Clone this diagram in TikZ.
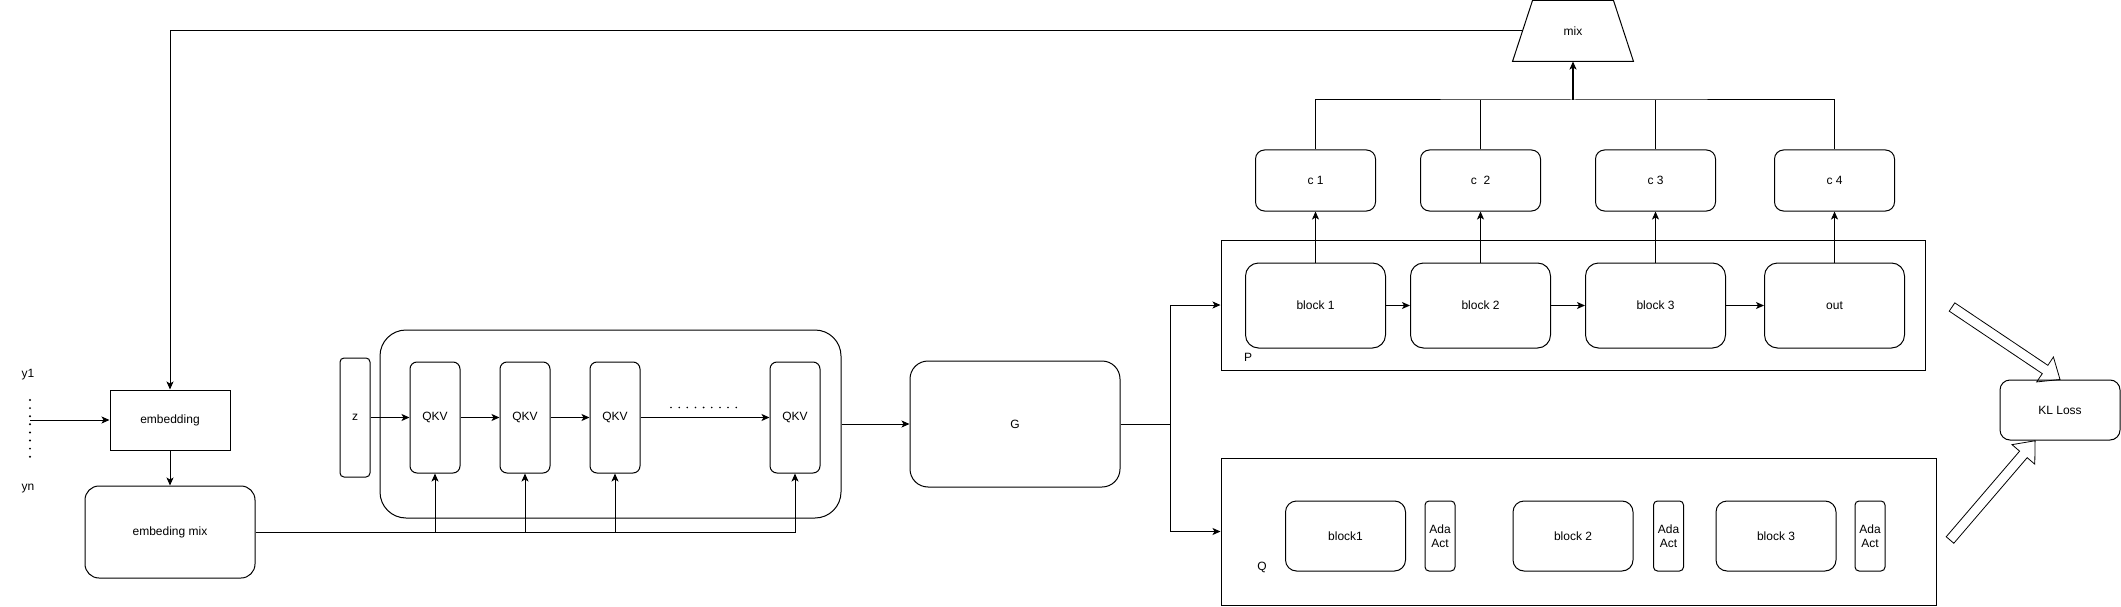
\documentclass[tikz,border=0pt]{standalone}
\usepackage{fontspec}
\setmainfont{Liberation Sans}
\usetikzlibrary{arrows.meta,calc}
\newcommand{\fatarrow}[2]{\draw[line width=0.8pt, line join=miter] let \p1=($(#2)-(#1)$), \n1={atan2(\y1,\x1)}, \n2={veclen(\x1,\y1)} in [shift={(#1)}, rotate=\n1] (0,5) -- (\n2-18,5) -- (\n2-18,15) -- (\n2,0) -- (\n2-18,-15) -- (\n2-18,-5) -- (0,-5) -- cycle;}

\begin{document}
\begin{tikzpicture}[x=1pt,y=-1pt,line width=1pt,
  every node/.style={font=\fontsize{12}{14}\selectfont},
  rbox/.style n args={3}{draw, rounded corners=#3pt, minimum width=#1pt, minimum height=#2pt, inner sep=0pt, align=center},
  sbox/.style 2 args={draw, minimum width=#1pt, minimum height=#2pt, inner sep=0pt},
  arr/.style={-{Stealth[length=8pt,width=7pt,inset=2pt]}}]
\useasboundingbox (0,0) rectangle (2121,607);

\node (y1) at (28,375) {y1};
\node (yn) at (28,489) {yn};
\foreach \k in {0,...,7}
  \fill (30,400+8.1*\k) circle (1.1);
\coordinate (ys) at (30,420);
\node[sbox={120}{60}] (emb) at (170,420) {embedding};
\node[rbox={170}{92}{14}] (embmix) at (170,532) {embeding mix};
\draw[arr] (ys) -- (emb);
\draw[arr] (emb) -- (embmix);

\node[rbox={461}{188}{26}] (stack) at (610.5,424) {};
\node[rbox={30}{119}{4}] (z) at (355,417.5) {z};
\foreach \i/\x in {1/435,2/525,3/615,4/795}
  \node[rbox={50}{111}{7}] (q\i) at (\x,417.5) {QKV};
\draw[arr] (z) -- (q1);
\draw[arr] (q1) -- (q2);
\draw[arr] (q2) -- (q3);
\draw[arr] (q3) -- (q4);
\foreach \k in {0,...,8}
  \fill (671+8.15*\k,407.5) circle (0.9);
\draw[arr] (embmix.east) -| (q4.south);
\foreach \i in {1,2,3}
  \draw[arr] (embmix.east -| q\i.south) -- (q\i.south);

\node[rbox={210}{126}{18}] (G) at (1015,424) {G};
\draw[arr] (stack) -- (G);

\node[sbox={704}{130}] (P) at (1573,305) {};
\node (plab) at (1248,357) {P};
\foreach \i/\x/\t in {1/1315.5/block 1,2/1480.5/block 2,3/1655.5/block 3,4/1834.5/out}
  \node[rbox={140}{85}{13}] (b\i) at (\x,305.5) {\t};
\draw[arr] (b1) -- (b2);
\draw[arr] (b2) -- (b3);
\draw[arr] (b3) -- (b4);
\foreach \i/\x/\t in {1/1315.5/c 1,2/1480.5/c\ \ 2,3/1655.5/c 3,4/1834.5/c 4}
{
  \node[rbox={120}{61}{9}] (c\i) at (\x,180.5) {\t};
  \draw[arr] (b\i) -- (c\i);
}

\node[minimum width=120pt, minimum height=60pt, inner sep=0pt] (mix) at (1573,31) {mix};
\draw (mix.south west) -- ([xshift=20pt]mix.north west) -- ([xshift=-20pt]mix.north east) -- (mix.south east) -- cycle;
\coordinate (mixl) at ([xshift=10pt]mix.west);
\coordinate (bus) at (1573,100);
\draw (c1.north) |- (bus) -| (c4.north);
\draw (c2.north) -- (c2.north |- bus);
\draw (c3.north) -- (c3.north |- bus);
\draw[arr, line width=1.8pt] (bus) -- (mix.south);
\draw[arr] (mixl) -| (emb.north);

\node[sbox={715}{147}] (Q) at (1578.5,531.5) {};
\node (qlab) at (1262,567) {Q};
\foreach \i/\x/\t in {1/1345.5/block1,2/1573/block 2,3/1776/block 3}
  \node[rbox={120}{70}{11}] (qb\i) at (\x,536) {\t};
\foreach \i/\x in {1/1440,2/1668.5,3/1870}
  \node[rbox={30}{70}{4}] (ada\i) at (\x,536) {Ada\\Act};

\coordinate (split) at (1170,424);
\draw (G) -- (split);
\draw[arr] (split) |- (P.west);
\draw[arr] (split) |- (Q.west);

\node[rbox={120}{60}{10}] (KL) at (2060,410) {KL Loss};
\coordinate (pt) at (1952,307);
\coordinate (qt) at (1950,540);
\fatarrow{pt}{KL.north}
\fatarrow{qt}{KL.-129}
\end{tikzpicture}
\end{document}
